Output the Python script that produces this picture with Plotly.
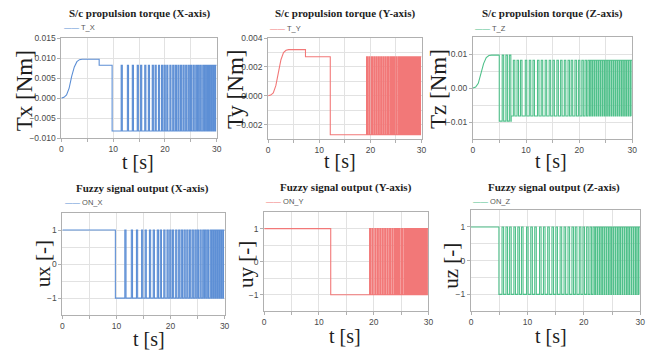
import plotly.graph_objects as go

W, H = 664, 358

# ---------------- data ----------------
T_END = 30.0

# X axis
X_ramp_t = [0.0, 0.5, 1.0, 1.5, 2.0, 2.5, 3.0, 3.5, 4.0]
X_ramp_T = [0.0, 0.0002, 0.0008, 0.0025, 0.0055, 0.0078, 0.0091, 0.0096, 0.0097]
X_hi, X_lo, X_t_lvl = 0.0097, 0.0082, 7.3
X_t_off = 9.8
X_pulses = [11.55, 12.75, 13.7, 14.65, 15.3, 16.1, 16.8, 17.55, 18.1, 18.75, 19.35,
            19.85, 20.35, 20.95, 21.5, 22.0, 22.5, 23.0, 23.5, 24.0, 24.5, 24.95,
            25.45, 25.95, 26.35, 26.8, 27.3, 27.65, 28.0, 28.4, 28.75, 29.1, 29.5, 29.8]
X_pulse_w = 0.22

# Y axis
Y_ramp_t = [0.0, 0.5, 1.0, 1.5, 2.0, 2.5, 3.0, 3.5, 4.0]
Y_ramp_T = [0.0, 0.00005, 0.0002, 0.0007, 0.0016, 0.0025, 0.003, 0.00315, 0.0032]
Y_hi, Y_lo, Y_t_lvl = 0.0032, 0.0027, 7.3
Y_t_off = 12.15
Y_pulses = [19.25, 19.7, 20.2, 20.65, 21.1, 21.55, 22.0, 22.45, 22.9, 23.35, 23.8,
            24.2, 24.6, 25.05, 25.5, 25.9, 26.3, 26.7, 27.1, 27.5, 27.9, 28.3,
            28.7, 29.1, 29.5, 29.8]
Y_pulse_w = 0.2

# Z axis
Z_ramp_t = [0.0, 0.5, 1.0, 1.5, 2.0, 2.5, 3.0, 3.5]
Z_ramp_T = [0.0, 0.0003, 0.0014, 0.0042, 0.0072, 0.009, 0.0096, 0.0097]
Z_hi, Z_lo, Z_t_lvl = 0.0097, 0.0082, 7.2
Z_t_off = 4.95
Z_pulses = [5.5, 6.2, 6.85, 7.6, 8.3, 8.95, 9.85, 10.6, 11.3, 12.15, 12.85, 13.6,
            14.35, 15.05, 15.8, 16.5, 17.2, 17.9, 18.5, 19.2, 19.85, 20.5, 21.1,
            21.65, 22.1, 22.5, 22.9, 23.3, 23.7, 24.1, 24.5, 24.9, 25.3, 25.7,
            26.1, 26.5, 26.9, 27.3, 27.7, 28.1, 28.5, 28.9, 29.3, 29.7]
Z_pulse_w = 0.28

TITLES_TOP = ["S/c propulsion torque (X-axis)", "S/c propulsion torque (Y-axis)",
              "S/c propulsion torque (Z-axis)"]
TITLES_BOT = ["Fuzzy signal output (X-axis)", "Fuzzy signal output (Y-axis)",
              "Fuzzy signal output (Z-axis)"]
NAMES_TOP = ["T_X", "T_Y", "T_Z"]
NAMES_BOT = ["ON_X", "ON_Y", "ON_Z"]
YLAB_TOP = ["Tx [Nm]", "Ty [Nm]", "Tz [Nm]"]
YLAB_BOT = ["ux [-]", "uy [-]", "uz [-]"]
COLORS = ["#5d8fd5", "#f27878", "#4fc08a"]


# ---------------- helpers ----------------
def segments(t_off, pulses, w):
    segs = [(0.0, t_off, 1.0)]
    cur = t_off
    for p in pulses:
        segs.append((cur, p, -1.0))
        segs.append((p, min(p + w, T_END), 1.0))
        cur = min(p + w, T_END)
    if cur < T_END:
        segs.append((cur, T_END, -1.0))
    return segs


def u_series(segs):
    xs, ys = [], []
    for a, b, v in segs:
        xs += [a, b]
        ys += [v, v]
    return xs, ys


def t_series(ramp_t, ramp_T, hi, lo, t_lvl, segs):
    xs, ys = list(ramp_t), list(ramp_T)
    t_off = segs[0][1]
    if t_lvl < t_off:
        xs += [t_lvl, t_lvl, t_off]
        ys += [hi, lo, lo]
    else:
        xs += [t_off]
        ys += [hi]
    for a, b, v in segs[1:]:
        pieces = [(a, b)]
        if a < t_lvl < b:
            pieces = [(a, t_lvl), (t_lvl, b)]
        for pa, pb in pieces:
            lev = hi if pa < t_lvl else lo
            xs += [pa, pb]
            ys += [v * lev, v * lev]
    return xs, ys


data = [
    (X_ramp_t, X_ramp_T, X_hi, X_lo, X_t_lvl, X_t_off, X_pulses, X_pulse_w),
    (Y_ramp_t, Y_ramp_T, Y_hi, Y_lo, Y_t_lvl, Y_t_off, Y_pulses, Y_pulse_w),
    (Z_ramp_t, Z_ramp_T, Z_hi, Z_lo, Z_t_lvl, Z_t_off, Z_pulses, Z_pulse_w),
]

# pixel boxes [x0, x1, y0, y1] (top-down)
BOX_TOP = [(60, 217, 34, 137), (269, 424, 34, 138), (476, 637, 33, 138)]
BOX_BOT = [(61, 225, 214, 319), (265, 431, 213, 315), (474, 645, 211, 315)]

fig = go.Figure()
layout = {}
annotations = []
TICKFONT = dict(family="Liberation Sans Narrow, Liberation Sans, Arial", size=8.5, color="#4a4a4a")
GRID = "#e2e2e2"
LINE = "#b0b0b0"


def dom(box):
    x0, x1, y0, y1 = box
    return [x0 / W, x1 / W], [1 - y1 / H, 1 - y0 / H]


def ann(px, py, text, size, angle=0, serif=True, color="#1e1e1e", xanchor="center"):
    annotations.append(dict(
        x=px / W, y=1 - py / H, xref="paper", yref="paper", text=text, showarrow=False,
        xanchor=xanchor, yanchor="middle", textangle=angle,
        font=dict(family="Liberation Serif, Times New Roman, serif" if serif else
                  "Liberation Sans Narrow, Liberation Sans, Arial",
                  size=size, color=color)))


top_yaxes = [
    dict(range=[-0.010, 0.015], tickvals=[-0.010, -0.005, 0.0, 0.005, 0.010, 0.015], tickformat=".3f",
         minor=None),
    dict(range=[-0.003, 0.004], tickvals=[-0.002, 0.0, 0.002, 0.004], tickformat=".3f",
         minor=dict(dtick=0.001, tick0=0, showgrid=True, gridcolor=GRID, ticks="")),
    dict(range=[-0.015, 0.015], tickvals=[-0.01, 0.0, 0.01], tickformat=".2f",
         minor=dict(dtick=0.005, tick0=0, showgrid=True, gridcolor=GRID, ticks="")),
]

idx = 0
for row in range(2):
    for col in range(3):
        idx += 1
        sfx = "" if idx == 1 else str(idx)
        box = BOX_TOP[col] if row == 0 else BOX_BOT[col]
        dx, dy = dom(box)
        ramp_t, ramp_T, hi, lo, t_lvl, t_off, pulses, w = data[col]
        segs = segments(t_off, pulses, w)
        if row == 0:
            xs, ys = t_series(ramp_t, ramp_T, hi, lo, t_lvl, segs)
            name = NAMES_TOP[col]
        else:
            xs, ys = u_series(segs)
            name = NAMES_BOT[col]
        fig.add_trace(go.Scatter(x=xs, y=ys, mode="lines", name=name,
                                 line=dict(color=COLORS[col], width=1.1),
                                 xaxis="x" + sfx, yaxis="y" + sfx, showlegend=False))
        layout["xaxis" + sfx] = dict(
            domain=dx, anchor="y" + sfx, range=[0, 30], tickvals=[0, 10, 20, 30],
            showgrid=True, gridcolor=GRID, showline=True, linecolor=LINE, mirror=True,
            ticks="outside", ticklen=3, tickcolor=LINE, tickfont=TICKFONT, zeroline=False,
            minor=dict(dtick=5, tick0=0, showgrid=True, gridcolor=GRID, ticks="outside",
                       ticklen=3, tickcolor=LINE))
        if row == 0:
            ya = dict(top_yaxes[col])
            minor = ya.pop("minor")
        else:
            ya = dict(range=[-1.5, 1.5], tickvals=[-1, 0, 1], tickformat="d")
            minor = dict(dtick=0.5, tick0=0, showgrid=True, gridcolor=GRID, ticks="")
        ya.update(domain=dy, anchor="x" + sfx, showgrid=True, gridcolor=GRID,
                  showline=True, linecolor=LINE, mirror=True, ticks="outside", ticklen=3,
                  tickcolor=LINE, tickfont=TICKFONT, zeroline=False)
        if minor:
            ya["minor"] = minor
        layout["yaxis" + sfx] = ya

# titles
for px, py, t in [(138.5, 9, TITLES_TOP[0]), (347, 9, TITLES_TOP[1]), (556, 9, TITLES_TOP[2]),
                  (142.5, 188.5, TITLES_BOT[0]), (348, 188, TITLES_BOT[1]), (558, 188, TITLES_BOT[2])]:
    ann(px, py, "<b>" + t + "</b>", 11)

# legends (text line + label)
for (px, py), name, c in zip([(61, 23), (269, 24), (476, 24)], NAMES_TOP, COLORS):
    ann(px, py, f"<span style='color:{c}'>——</span> {name}", 7.5, serif=False,
        color="#555555", xanchor="left")
for (px, py), name, c in zip([(62, 203.5), (265, 202.5), (474, 202.5)], NAMES_BOT, COLORS):
    ann(px, py, f"<span style='color:{c}'>——</span> {name}", 7.5, serif=False,
        color="#555555", xanchor="left")

# y-axis titles
for (px, py), t in zip([(23, 88), (236, 87), (441, 86)], YLAB_TOP):
    ann(px, py, t, 23, angle=-90)
for (px, py), t in zip([(41, 266), (246, 267), (453, 268)], YLAB_BOT):
    ann(px, py, t, 21, angle=-90)

# x-axis titles
for px, py in [(137, 162), (342, 160), (555, 160), (149, 344), (347, 340), (555, 341)]:
    ann(px, py, "t [s]", 20)

fig.update_layout(
    width=W, height=H, margin=dict(l=0, r=0, t=0, b=0),
    paper_bgcolor="white", plot_bgcolor="white",
    annotations=annotations, showlegend=False, **layout)

fig.write_html("out.html")
